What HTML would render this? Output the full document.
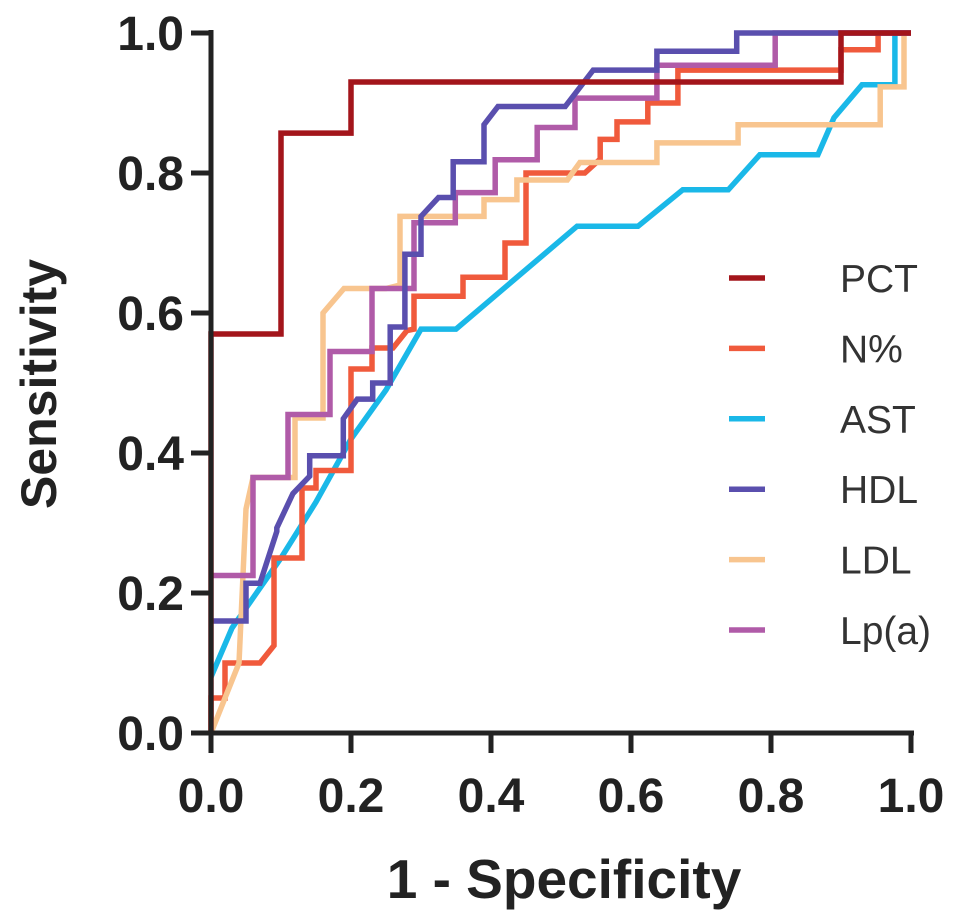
<!DOCTYPE html>
<html><head><meta charset="utf-8"><style>
html,body{margin:0;padding:0;background:#fff;}
svg{display:block;font-family:"Liberation Sans",Arial,sans-serif;}
</style></head><body>
<svg id="chart" width="969" height="920">
<g id="plot"></g>
<g id="axes"></g>
<g id="legend"></g>
<text x="564" y="898" text-anchor="middle" font-size="55" font-weight="bold" fill="#222">1 - Specificity</text>
<text transform="translate(56,384) rotate(-90)" text-anchor="middle" font-size="50" font-weight="bold" fill="#222">Sensitivity</text>
</svg>
<script>
const xTicks = ["0.0","0.2","0.4","0.6","0.8","1.0"];
const yTicks = ["0.0","0.2","0.4","0.6","0.8","1.0"];
const seriesNames = ["PCT","N%","AST","HDL","LDL","Lp(a)"];
const seriesColors = ["#a3151b","#f05a3c","#1ab8e8","#5a4fae","#f8c58f","#b05ba8"];
const pctX = [0,0,0.1,0.1,0.2,0.2,0.9,0.9,1];
const pctY = [0,0.57,0.57,0.857,0.857,0.93,0.93,1,1];
const nX = [0,0,0.02,0.02,0.07,0.09,0.09,0.13,0.13,0.15,0.15,0.2,0.2,0.23,0.23,0.26,0.28,0.29,0.29,0.36,0.36,0.42,0.42,0.45,0.45,0.534,0.556,0.556,0.58,0.58,0.624,0.624,0.667,0.667,0.9,0.9,0.953,0.953,1];
const nY = [0,0.05,0.05,0.1,0.1,0.125,0.25,0.25,0.35,0.35,0.375,0.375,0.52,0.52,0.55,0.55,0.575,0.577,0.624,0.624,0.651,0.651,0.70,0.70,0.80,0.80,0.82,0.848,0.848,0.873,0.873,0.90,0.90,0.947,0.947,0.976,0.976,1,1];
const astX = [0,0.03,0.1,0.15,0.2,0.25,0.3,0.35,0.523,0.61,0.674,0.739,0.784,0.867,0.89,0.93,0.977,0.977,1];
const astY = [0.08,0.15,0.25,0.33,0.42,0.49,0.577,0.577,0.724,0.724,0.776,0.776,0.826,0.826,0.879,0.926,0.926,1,1];
const hdlX = [0,0.05,0.05,0.07,0.094,0.094,0.117,0.141,0.141,0.189,0.189,0.209,0.231,0.231,0.256,0.256,0.277,0.277,0.30,0.30,0.325,0.346,0.346,0.39,0.39,0.41,0.506,0.546,0.637,0.637,0.751,0.751,1];
const hdlY = [0.16,0.16,0.214,0.214,0.288,0.293,0.342,0.367,0.396,0.396,0.449,0.477,0.477,0.50,0.50,0.58,0.58,0.684,0.684,0.738,0.765,0.765,0.816,0.816,0.869,0.895,0.895,0.947,0.947,0.974,0.974,1,1];
const ldlX = [0,0.04,0.05,0.06,0.12,0.12,0.16,0.16,0.19,0.25,0.27,0.27,0.39,0.39,0.437,0.437,0.509,0.527,0.637,0.637,0.753,0.753,0.956,0.956,0.99,0.99,1];
const ldlY = [0,0.1,0.32,0.365,0.365,0.45,0.45,0.6,0.635,0.635,0.64,0.738,0.738,0.762,0.762,0.79,0.79,0.815,0.815,0.843,0.843,0.869,0.869,0.923,0.923,1,1];
const lpaX = [0,0.06,0.06,0.11,0.11,0.17,0.17,0.23,0.23,0.29,0.29,0.349,0.349,0.406,0.406,0.466,0.466,0.52,0.52,0.637,0.637,0.806,0.806,1];
const lpaY = [0.225,0.225,0.365,0.365,0.455,0.455,0.545,0.545,0.635,0.635,0.729,0.729,0.772,0.772,0.819,0.819,0.865,0.865,0.907,0.907,0.954,0.954,1,1];
const seriesX = [pctX,nX,astX,hdlX,ldlX,lpaX];
const seriesY = [pctY,nY,astY,hdlY,ldlY,lpaY];

const NS="http://www.w3.org/2000/svg";
const x0=211,x1=911,y0=733,y1=33;
function sx(v){return x0+v*(x1-x0);}
function sy(v){return y0-v*(y0-y1);}
const plot=document.getElementById('plot');
const order=[2,1,4,5,3,0];
order.forEach(i=>{
  const p=document.createElementNS(NS,'polyline');
  p.setAttribute('points',seriesX[i].map((v,k)=>sx(v)+','+sy(seriesY[i][k])).join(' '));
  p.setAttribute('fill','none');p.setAttribute('stroke',seriesColors[i]);
  p.setAttribute('stroke-width','5.5');p.setAttribute('stroke-linejoin','miter');
  
  
  plot.appendChild(p);
});
const axes=document.getElementById('axes');
function el(t,a){const e=document.createElementNS(NS,t);for(const k in a)e.setAttribute(k,a[k]);return e;}
const xa=el('line',{x1:x0-2,y1:y0,x2:x1+3,y2:y0,stroke:'#222','stroke-width':5});


axes.appendChild(xa);
const ya=el('line',{x1:x0,y1:y0+2,x2:x0,y2:y1-3,stroke:'#222','stroke-width':5});


axes.appendChild(ya);
xTicks.forEach((t,i)=>{
  const v=i/(xTicks.length-1);
  const tk=el('line',{x1:sx(v),y1:y0,x2:sx(v),y2:y0+20,stroke:'#222','stroke-width':5});
  
  
  axes.appendChild(tk);
  const tx=el('text',{x:sx(v),y:812,'text-anchor':'middle','font-size':48,'font-weight':'bold',fill:'#222'});
  tx.textContent=t;
  
  
  axes.appendChild(tx);
});
yTicks.forEach((t,i)=>{
  const v=i/(yTicks.length-1);
  const tk=el('line',{x1:x0-20,y1:sy(v),x2:x0,y2:sy(v),stroke:'#222','stroke-width':5});
  
  
  axes.appendChild(tk);
  const tx=el('text',{x:184,y:sy(v)+17,'text-anchor':'end','font-size':48,'font-weight':'bold',fill:'#222'});
  tx.textContent=t;
  
  
  axes.appendChild(tx);
});
const lg=document.getElementById('legend');
seriesNames.forEach((n,i)=>{
  const y=278+i*70.4;
  const ln=el('line',{x1:729,y1:y,x2:765,y2:y,stroke:seriesColors[i],'stroke-width':5.5});
  
  
  lg.appendChild(ln);
  const tx=el('text',{x:840,y:y+14,'font-size':39,fill:'#333'});
  tx.textContent=n;
  
  
  lg.appendChild(tx);
});
</script>
</body></html>
